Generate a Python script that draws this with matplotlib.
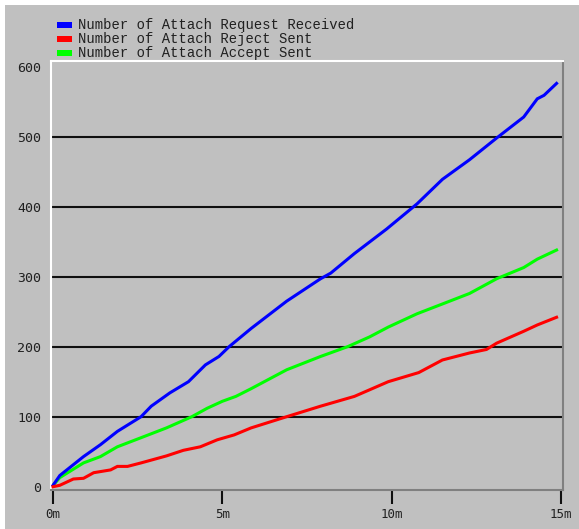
import matplotlib
matplotlib.use("Agg")
import matplotlib.pyplot as plt
from matplotlib.patches import Rectangle

# ---- data (minutes, counts) ----
t_req = [0, 0.2, 0.9, 1.4, 1.9, 2.6, 2.9, 3.45, 4.0, 4.5, 4.9, 5.2, 5.85, 6.9, 7.9,
         8.2, 8.9, 9.85, 10.75, 11.5, 12.3, 13.1, 13.9, 14.3, 14.5, 14.87]
v_req = [2, 16, 43, 60, 79, 100, 115, 134, 150, 174, 186, 200, 226, 265, 297,
         305, 333, 368, 404, 439, 467, 498, 528, 554, 559, 576]

t_rej = [0, 0.2, 0.6, 0.9, 1.2, 1.7, 1.9, 2.2, 2.6, 2.9, 3.35, 3.85, 4.35, 4.85, 5.35,
         5.85, 6.9, 7.9, 8.9, 9.9, 10.8, 11.5, 12.3, 12.8, 13.1, 13.9, 14.3, 14.87]
v_rej = [0, 2, 11, 12, 20, 24, 29, 29, 34, 38, 44, 52, 57, 67, 74,
         84, 100, 115, 129, 150, 163, 181, 191, 196, 205, 222, 231, 242]

t_acc = [0, 0.2, 0.9, 1.4, 1.9, 2.6, 3.35, 4.1, 4.55, 5.0, 5.4, 5.85, 6.9, 7.9, 8.7,
         9.35, 9.9, 10.75, 11.5, 12.3, 13.1, 13.9, 14.3, 14.87]
v_acc = [2, 13, 34, 43, 57, 70, 84, 100, 112, 122, 129, 140, 167, 186, 200,
         214, 228, 247, 261, 276, 297, 313, 325, 338]

series_names = ["Number of Attach Request Received",
                "Number of Attach Reject Sent",
                "Number of Attach Accept Sent"]
x_ticks = [0, 5, 10, 15]
x_tick_labels = ["0m", "5m", "10m", "15m"]
y_ticks = [0, 100, 200, 300, 400, 500, 600]
y_grid = [100, 200, 300, 400, 500]

W, H = 579, 529
fig = plt.figure(figsize=(W / 100, H / 100), dpi=100, facecolor="white")

# gray panel
fig.patches.append(Rectangle((5 / W, 0), (W - 5) / W, (H - 5) / H, transform=fig.transFigure,
                             facecolor="#c0c0c0", edgecolor="none", zorder=-5))

ax = fig.add_axes([51 / W, (H - 490) / H, 512 / W, 429 / H])
ax.set_zorder(1)
ax.set_facecolor("#c0c0c0")
ax.set_xlim(-0.06, 15.06)
ax.set_ylim(-4.7, 608)

for g in y_grid:
    ax.axhline(g, color="#101010", lw=1.5, zorder=1)

colors = ["#0000ff", "#ff0000", "#00ff00"]
ax.plot(t_req, v_req, color=colors[0], lw=2.2, zorder=3, solid_joinstyle="miter")
ax.plot(t_rej, v_rej, color=colors[1], lw=2.2, zorder=3, solid_joinstyle="miter")
ax.plot(t_acc, v_acc, color=colors[2], lw=2.2, zorder=2, solid_joinstyle="miter")

for s in ["left", "top"]:
    ax.spines[s].set_color("white")
    ax.spines[s].set_linewidth(1.5)
for s in ["right", "bottom"]:
    ax.spines[s].set_color("#808080")
    ax.spines[s].set_linewidth(1.5)

ax.set_xticks(x_ticks)
ax.set_xticklabels(x_tick_labels, family="DejaVu Sans Mono", fontsize=9, color="#202020")
ax.tick_params(axis="x", direction="out", length=10, width=1.5, color="#101010", pad=3)
ax.set_yticks(y_ticks)
ax.set_yticklabels([str(v) for v in y_ticks], family="DejaVu Sans Mono", fontsize=9.5,
                   color="#202020")
ax.tick_params(axis="y", length=0, pad=7)

# legend
rows_y = [24.5, 39, 52.5]
for name, c, yy in zip(series_names, colors, rows_y):
    fig.patches.append(Rectangle((57 / W, (H - yy - 3) / H), 15 / W, 6 / H,
                                 transform=fig.transFigure, facecolor=c,
                                 edgecolor="none", zorder=5))
    fig.text(78 / W, (H - yy) / H, name, family="Liberation Mono", fontsize=10,
             color="#202020", va="center", ha="left")

fig.savefig("out.png", dpi=100, facecolor="white")
